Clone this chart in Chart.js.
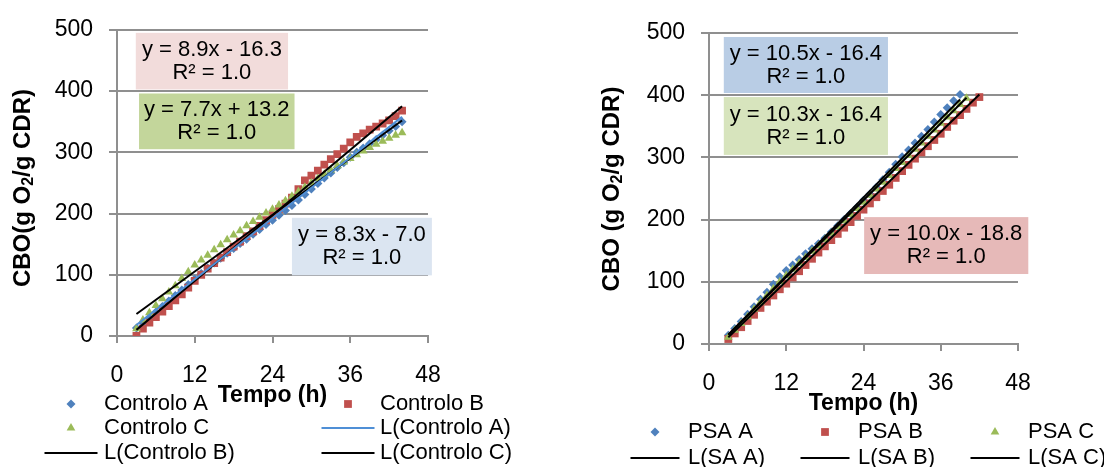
<!DOCTYPE html>
<html>
<head>
<meta charset="utf-8">
<script src="https://cdn.jsdelivr.net/npm/chart.js@4.4.1/dist/chart.umd.min.js"></script>
<style>
  html, body { margin: 0; padding: 0; background: #fff; }
  #wrap { position: relative; width: 1104px; height: 467px; overflow: hidden; }
  .painel { position: absolute; top: 0; width: 552px; height: 467px; }
</style>
</head>
<body>
<div id="wrap">
  <div class="painel" style="left:0"><canvas id="chartControlo"></canvas></div>
  <div class="painel" style="left:552px"><canvas id="chartPsa"></canvas></div>
</div>
<script>
// ---- dados ----
const xTicks = [0, 12, 24, 36, 48];
const yTicks = [0, 100, 200, 300, 400, 500];

const horasControlo = [3, 4, 5, 6, 7, 8, 9, 10, 11, 12, 13, 14, 15, 16, 17, 18, 19, 20, 21, 22, 23,
    24, 25, 26, 27, 28, 29, 30, 31, 32, 33, 34, 35, 36, 37, 38, 39, 40, 41, 42, 43, 44];
const controloA = [13, 21, 30, 39, 48, 57, 66, 75, 84, 93, 102, 111, 119, 127, 135, 143, 151, 158, 166, 174, 182,
    189, 197, 205, 213, 222, 231, 240, 249, 258, 266, 275, 283, 292, 300, 307, 314, 321, 328, 335, 342, 350];
const controloB = [0, 12, 22, 31, 40, 49, 58, 68, 79, 90, 100, 110, 119, 128, 137, 146, 154, 163, 171, 180, 189,
    198, 207, 216, 226, 240, 254, 262, 270, 280, 289, 297, 306, 316, 325, 331, 337, 342, 347, 352, 359, 368];
const controloC = [12, 26, 38, 50, 61, 72, 82, 94, 105, 116, 124, 132, 141, 149, 157, 165, 172, 180, 187, 194, 201,
    207, 214, 221, 228, 236, 243, 250, 257, 264, 271, 278, 284, 290, 296, 302, 308, 313, 318, 323, 328, 332];

const horasPsaA = [3, 4, 5, 6, 7, 8, 9, 10, 11, 12, 13, 14, 15, 16, 17, 18, 19, 20, 21, 22, 23,
    24, 25, 26, 27, 28, 29, 30, 31, 32, 33, 34, 35, 36, 37, 38, 39];
const psaA = [14, 25, 36, 48, 60, 72, 83, 96, 108, 118, 127, 136, 145, 153, 161, 170, 180, 190, 200, 210, 220,
    231, 241, 252, 264, 276, 289, 301, 312, 323, 334, 345, 357, 369, 380, 391, 401];
const horasPsaB = [3, 4, 5, 6, 7, 8, 9, 10, 11, 12, 13, 14, 15, 16, 17, 18, 19, 20, 21, 22, 23,
    24, 25, 26, 27, 28, 29, 30, 31, 32, 33, 34, 35, 36, 37, 38, 39, 40, 41, 42];
const psaB = [8, 17, 27, 37, 47, 58, 68, 78, 88, 97, 107, 117, 127, 137, 147, 157, 167, 177, 187, 196, 206,
    216, 226, 236, 246, 256, 267, 278, 288, 298, 308, 318, 328, 338, 349, 359, 368, 378, 388, 397];
const horasPsaC = [3, 4, 5, 6, 7, 8, 9, 10, 11, 12, 13, 14, 15, 16, 17, 18, 19, 20, 21, 22, 23,
    24, 25, 26, 27, 28, 29, 30, 31, 32, 33, 34, 35, 36, 37, 38, 39, 40];
const psaC = [11, 22, 33, 44, 56, 67, 78, 89, 100, 110, 120, 130, 139, 149, 158, 168, 178, 188, 198, 208, 218,
    228, 239, 249, 260, 271, 282, 292, 303, 313, 323, 334, 344, 355, 365, 375, 385, 395];

// linhas de tendencia (inicio e fim)
const tendControloA = [[3, 18], [44, 358]];
const tendControloB = [[3, 10], [44, 375]];
const tendControloC = [[3, 36], [44, 352]];
const tendPsaA = [[3, 15], [39, 393]];
const tendPsaB = [[3, 11], [42, 401]];
const tendPsaC = [[3, 15], [40, 396]];

const FONT = '"Liberation Sans", Arial, sans-serif';
const gridColor = '#8f8f8f';
const azul = '#4f81bd', vermelho = '#c0504d', verde = '#9bbb59';

function pontos(horas, valores) {
    return horas.map((h, i) => ({ x: h, y: valores[i] }));
}

function serie(label, horas, valores, estilo, cor, raio, ordem) {
    return {
        label: label,
        data: pontos(horas, valores),
        showLine: false,
        pointStyle: estilo,
        pointRadius: raio,
        pointBackgroundColor: cor,
        pointBorderColor: cor,
        pointBorderWidth: 0,
        borderColor: cor,
        backgroundColor: cor,
        order: ordem
    };
}

function tendencia(label, pts, cor) {
    return {
        label: label,
        data: pts.map(p => ({ x: p[0], y: p[1] })),
        showLine: true,
        borderColor: cor,
        borderWidth: 2,
        pointRadius: 0,
        fill: false,
        order: 0
    };
}

// caixas com as equacoes
const eqBoxPlugin = {
    id: 'eqBoxes',
    afterDatasetsDraw(chart, args, opts) {
        const { ctx, scales: { x, y } } = chart;
        ctx.save();
        ctx.font = `22px ${FONT}`;
        ctx.textAlign = 'center';
        ctx.textBaseline = 'middle';
        (opts.boxes || []).forEach(b => {
            const left = x.getPixelForValue(b.x0);
            const right = x.getPixelForValue(b.x1);
            const top = y.getPixelForValue(b.y1);
            const bottom = y.getPixelForValue(b.y0);
            ctx.fillStyle = b.fill;
            ctx.fillRect(left, top, right - left, bottom - top);
            const cx = (left + right) / 2;
            const cy = (top + bottom) / 2;
            ctx.fillStyle = '#000';
            b.lines.forEach((t, i) => {
                ctx.fillText(t, cx, cy + (i - (b.lines.length - 1) / 2) * 23);
            });
        });
        ctx.restore();
    }
};

// titulo do eixo y com O2 em subscrito
const yTitlePlugin = {
    id: 'yTitle',
    afterDraw(chart, args, opts) {
        const { ctx } = chart;
        const big = `bold 24px ${FONT}`;
        const small = `bold 16px ${FONT}`;
        ctx.save();
        ctx.translate(opts.x, opts.y);
        ctx.rotate(-Math.PI / 2);
        ctx.fillStyle = '#000';
        ctx.textBaseline = 'middle';
        ctx.textAlign = 'left';
        let total = 0;
        opts.parts.forEach(p => {
            ctx.font = p.sub ? small : big;
            total += ctx.measureText(p.text).width;
        });
        let pos = -total / 2;
        opts.parts.forEach(p => {
            ctx.font = p.sub ? small : big;
            ctx.fillText(p.text, pos, p.sub ? 6 : 0);
            pos += ctx.measureText(p.text).width;
        });
        ctx.restore();
    }
};

// legenda em grelha, estilo Excel
const legendPlugin = {
    id: 'excelLegend',
    afterDraw(chart, args, opts) {
        const { ctx } = chart;
        ctx.save();
        ctx.font = `${opts.size}px ${FONT}`;
        ctx.textBaseline = 'middle';
        ctx.textAlign = 'left';
        chart.data.datasets.forEach((ds, i) => {
            const col = opts.cols[i % opts.cols.length];
            const rowY = opts.rows[Math.floor(i / opts.cols.length)];
            if (ds.showLine) {
                ctx.strokeStyle = ds.borderColor;
                ctx.lineWidth = 2;
                ctx.beginPath();
                ctx.moveTo(col.sym - opts.lineLen / 2, rowY);
                ctx.lineTo(col.sym + opts.lineLen / 2, rowY);
                ctx.stroke();
            } else {
                ctx.fillStyle = ds.pointBackgroundColor;
                ctx.strokeStyle = ds.pointBorderColor;
                Chart.helpers.drawPoint(ctx, {
                    pointStyle: ds.pointStyle, radius: ds.pointRadius, rotation: 0, borderWidth: 0
                }, col.sym, rowY);
            }
            ctx.fillStyle = '#000';
            ctx.fillText(ds.label, col.text, rowY);
        });
        ctx.restore();
    }
};

function opcoes(cfg) {
    return {
        responsive: true,
        maintainAspectRatio: false,
        animation: false,
        events: [],
        layout: { padding: { top: cfg.top, right: cfg.right, left: 0, bottom: 0 } },
        plugins: {
            legend: { display: false },
            tooltip: { enabled: false },
            eqBoxes: { boxes: cfg.boxes },
            yTitle: { x: cfg.titleX, y: cfg.titleY, parts: cfg.titleParts },
            excelLegend: cfg.legend
        },
        scales: {
            x: {
                type: 'linear',
                min: 0,
                max: 48,
                afterBuildTicks: s => { s.ticks = xTicks.map(v => ({ value: v })); },
                afterFit: s => { s.height = cfg.xHeight; },
                grid: { drawOnChartArea: false, drawTicks: true, tickLength: 7, color: gridColor, lineWidth: 2 },
                border: { color: gridColor, width: 2 },
                ticks: { color: '#000', font: { size: 23, family: FONT }, padding: 19, maxRotation: 0, autoSkip: false },
                title: {
                    display: true, text: 'Tempo (h)', color: '#000',
                    font: { size: 23, weight: 'bold', family: FONT },
                    padding: { top: 0, bottom: cfg.xTitlePad }
                }
            },
            y: {
                type: 'linear',
                min: 0,
                max: 500,
                afterBuildTicks: s => { s.ticks = yTicks.map(v => ({ value: v })); },
                afterFit: s => { s.width = cfg.yWidth; },
                grid: { drawTicks: true, tickLength: 8, color: gridColor, lineWidth: 2 },
                border: { color: gridColor, width: 2 },
                ticks: { color: '#000', font: { size: 23, family: FONT }, padding: 16 }
            }
        }
    };
}

new Chart(document.getElementById('chartControlo'), {
    type: 'scatter',
    data: {
        datasets: [
            serie('Controlo A', horasControlo, controloA, 'rectRot', azul, 4.5, 3),
            serie('Controlo B', horasControlo, controloB, 'rect', vermelho, 5.5, 2),
            serie('Controlo C', horasControlo, controloC, 'triangle', verde, 5, 1),
            tendencia('L(Controlo A)', tendControloA, '#4f8fd6'),
            tendencia('L(Controlo B)', tendControloB, '#000'),
            tendencia('L(Controlo C)', tendControloC, '#000')
        ]
    },
    options: opcoes({
        top: 28, right: 124, yWidth: 117, xHeight: 131, xTitlePad: 58,
        titleX: 23, titleY: 188,
        titleParts: [{ text: 'CBO(g O' }, { text: '2', sub: true }, { text: '/g CDR)' }],
        boxes: [
            { x0: 2.9, x1: 26.4, y0: 402.6, y1: 495, fill: '#f2dcdb', lines: ['y = 8.9x - 16.3', 'R² = 1.0'] },
            { x0: 3.4, x1: 27.4, y0: 305, y1: 396, fill: '#c3d69b', lines: ['y = 7.7x + 13.2', 'R² = 1.0'] },
            { x0: 27.0, x1: 48.6, y0: 99, y1: 193, fill: '#dbe5f1', lines: ['y = 8.3x - 7.0', 'R² = 1.0'] }
        ],
        legend: {
            size: 22, lineLen: 53,
            cols: [{ sym: 71, text: 104 }, { sym: 348, text: 380 }],
            rows: [404, 428, 453]
        }
    }),
    plugins: [eqBoxPlugin, yTitlePlugin, legendPlugin]
});

new Chart(document.getElementById('chartPsa'), {
    type: 'scatter',
    data: {
        datasets: [
            serie('PSA A', horasPsaA, psaA, 'rectRot', azul, 4.5, 3),
            serie('PSA B', horasPsaB, psaB, 'rect', vermelho, 5.5, 2),
            serie('PSA C', horasPsaC, psaC, 'triangle', verde, 5, 1),
            tendencia('L(SA A)', tendPsaA, '#000'),
            tendencia('L(SA B)', tendPsaB, '#000'),
            tendencia('L(SA C)', tendPsaC, '#000')
        ]
    },
    options: opcoes({
        top: 33, right: 86, yWidth: 157, xHeight: 123, xTitlePad: 50,
        titleX: 60, titleY: 189,
        titleParts: [{ text: 'CBO (g O' }, { text: '2', sub: true }, { text: '/g CDR)' }],
        boxes: [
            { x0: 2.3, x1: 27.8, y0: 403.5, y1: 493.6, fill: '#b9cde5', lines: ['y = 10.5x - 16.4', 'R² = 1.0'] },
            { x0: 2.3, x1: 27.8, y0: 304, y1: 397, fill: '#d7e4bd', lines: ['y = 10.3x - 16.4', 'R² = 1.0'] },
            { x0: 24.1, x1: 49.6, y0: 112.5, y1: 204, fill: '#e6b9b8', lines: ['y = 10.0x - 18.8', 'R² = 1.0'] }
        ],
        legend: {
            size: 22, lineLen: 49,
            cols: [{ sym: 103, text: 136 }, { sym: 273, text: 306 }, { sym: 443, text: 476 }],
            rows: [432, 458]
        }
    }),
    plugins: [eqBoxPlugin, yTitlePlugin, legendPlugin]
});
</script>
</body>
</html>
